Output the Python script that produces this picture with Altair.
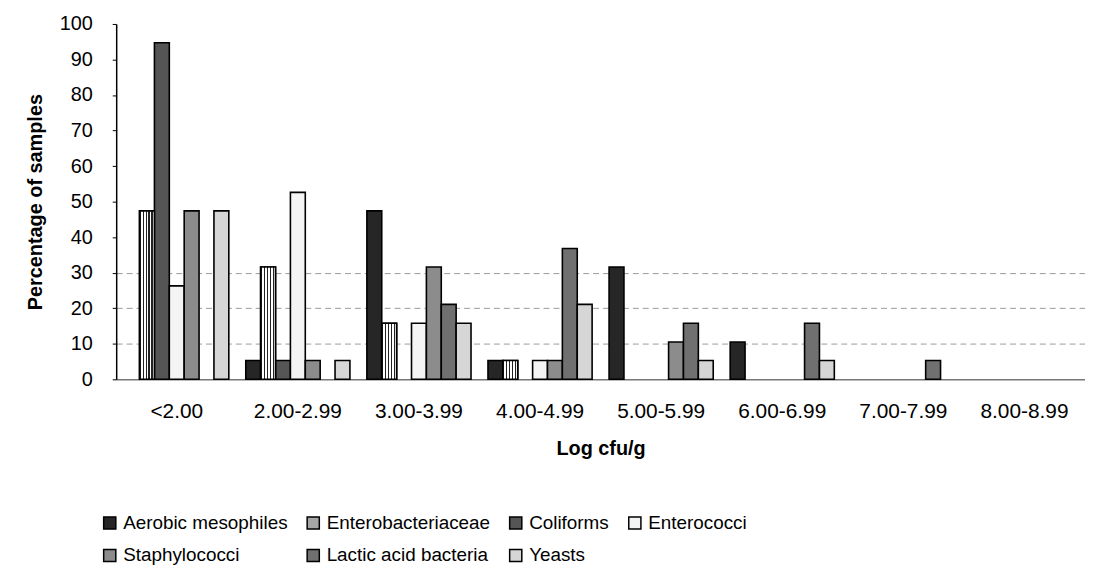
import altair as alt
import pandas as pd

categories = ["<2.00", "2.00-2.99", "3.00-3.99", "4.00-4.99",
              "5.00-5.99", "6.00-6.99", "7.00-7.99", "8.00-8.99"]
series = ["Aerobic mesophiles", "Enterobacteriaceae", "Coliforms", "Enterococci",
          "Staphylococci", "Lactic acid bacteria", "Yeasts"]

aerobic = [0, 5.3, 47.4, 5.3, 31.6, 10.5, 0, 0]
entero = [47.4, 31.6, 15.8, 5.3, 0, 0, 0, 0]
coliforms = [94.7, 5.3, 0, 0, 0, 0, 0, 0]
enterococci = [26.3, 52.6, 15.8, 5.3, 0, 0, 0, 0]
staph = [47.4, 5.3, 31.6, 5.3, 10.5, 0, 0, 0]
lab = [0, 0, 21.1, 36.8, 15.8, 15.8, 5.3, 0]
yeasts = [47.4, 5.3, 15.8, 21.1, 5.3, 5.3, 0, 0]

fills = ["#262626", "#a6a6a6", "#555555", "#f4f4f4", "#8c8c8c", "#707070", "#d6d6d6"]

values = [aerobic, entero, coliforms, enterococci, staph, lab, yeasts]
rows = []
for s, vals in zip(series, values):
    for c, v in zip(categories, vals):
        rows.append({"range": c, "group": s, "value": v})
df = pd.DataFrame(rows)

FONT = "Liberation Sans"

# vertical stripe pattern for the Enterobacteriaceae bars
stripe_stops = []
n = 5
for i in range(n):
    a = i / n
    b = a + 0.5 / n
    c = (i + 1) / n
    stripe_stops += [
        {"offset": a, "color": "#222222"}, {"offset": b, "color": "#222222"},
        {"offset": b, "color": "#ffffff"}, {"offset": c, "color": "#ffffff"},
    ]
stripes = {"gradient": "linear", "x1": 0, "y1": 0, "x2": 1, "y2": 0, "stops": stripe_stops}

x_enc = alt.X("range:N", sort=categories,
              scale=alt.Scale(domain=categories, paddingInner=0.14, paddingOuter=0.07),
              axis=alt.Axis(title="Log cfu/g", labelAngle=0, ticks=False,
                            labelPadding=21, titlePadding=18, labelFontSize=21,
                            domainColor="#777777"))
xo_enc = alt.XOffset("group:N", sort=series,
                     scale=alt.Scale(domain=series, paddingInner=0, paddingOuter=0))
y_enc = alt.Y("value:Q", scale=alt.Scale(domain=[0, 100]),
              axis=alt.Axis(title="Percentage of samples", values=list(range(0, 101, 10)),
                            tickSize=4, labelPadding=20, titlePadding=14,
                            domainColor="black", tickColor="black",
                            grid=True, gridDash=[6, 4],
                            gridColor=alt.condition("datum.value > 0 && datum.value <= 30",
                                                    alt.value("#9a9a9a"),
                                                    alt.value("transparent"))))

base = alt.Chart(df).transform_filter("datum.value > 0")

bars = base.mark_bar(stroke="black", strokeWidth=1.6).encode(
    x=x_enc, xOffset=xo_enc, y=y_enc,
    fill=alt.Fill("group:N", sort=series,
                  scale=alt.Scale(domain=series, range=fills),
                  legend=alt.Legend(title=None, orient="none", legendX=-16, legendY=493,
                                    columns=4, direction="horizontal",
                                    symbolType="square", symbolSize=150,
                                    symbolStrokeColor="black", symbolStrokeWidth=1.5,
                                    columnPadding=16, rowPadding=13,
                                    labelFontSize=19, labelFont=FONT, labelColor="black",
                                    labelLimit=400)),
)

entero_pattern = base.transform_filter(
    alt.datum.group == "Enterobacteriaceae"
).mark_bar(stroke="black", strokeWidth=1.6, fill=stripes).encode(
    x=x_enc, xOffset=xo_enc, y=y_enc,
)

chart = alt.layer(bars, entero_pattern).properties(
    width=976, height=358,
    padding={"left": 17, "top": 4, "right": 0, "bottom": 0},
).configure_view(stroke=None).configure_axis(
    labelFont=FONT, labelFontSize=20, labelColor="black",
    titleFont=FONT, titleFontSize=20, titleFontWeight="bold", titleColor="black",
    domainWidth=1.5,
)

chart.save("out.html", embed_options={"renderer": "svg", "actions": False})
